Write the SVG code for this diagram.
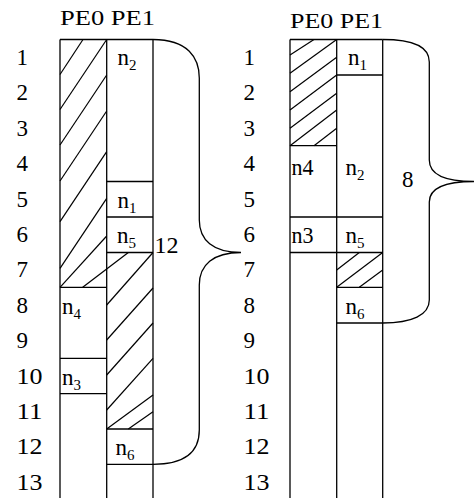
<svg xmlns="http://www.w3.org/2000/svg" width="474" height="498" viewBox="0 0 474 498">
<style>
.ln{stroke:#000;stroke-width:1.3;fill:none}
.h{stroke:#000;stroke-width:1.2;fill:none}
text{font-family:"Liberation Serif","Times New Roman",serif;fill:#000}
.num{font-size:23px}
.hd{font-size:22px}
.lb{font-size:23px}
.sb{font-size:15px}
</style>
<rect width="474" height="498" fill="#fff"/>
<g id="left-chart">
<text class="hd" x="60" y="25" textLength="95" lengthAdjust="spacingAndGlyphs">PE0 PE1</text>
<g id="left-rows" class="num">
<text x="16.5" y="65">1</text>
<text x="16.5" y="100.4">2</text>
<text x="16.5" y="135.8">3</text>
<text x="16.5" y="171.2">4</text>
<text x="16.5" y="206.6">5</text>
<text x="16.5" y="242">6</text>
<text x="16.5" y="277.4">7</text>
<text x="16.5" y="312.8">8</text>
<text x="16.5" y="348.2">9</text>
<text x="16.5" y="383.6" textLength="26" lengthAdjust="spacingAndGlyphs">10</text>
<text x="16.5" y="419" textLength="26" lengthAdjust="spacingAndGlyphs">11</text>
<text x="16.5" y="454.4" textLength="26" lengthAdjust="spacingAndGlyphs">12</text>
<text x="16.5" y="489.8" textLength="26" lengthAdjust="spacingAndGlyphs">13</text>
</g>
<g id="left-columns" class="ln">
<line x1="60" y1="39.5" x2="60" y2="498"/>
<line x1="106.7" y1="39.5" x2="106.7" y2="498"/>
<line x1="153" y1="39.5" x2="153" y2="498"/>
<line x1="60" y1="39.5" x2="153" y2="39.5"/>
</g>
<g id="L-PE0-idle" class="h">
<line x1="60" y1="74.5" x2="83" y2="39.5"/>
<line x1="60" y1="109.5" x2="106.7" y2="39.5"/>
<line x1="60" y1="145" x2="106.7" y2="75"/>
<line x1="60" y1="181" x2="106.7" y2="111"/>
<line x1="60" y1="221.7" x2="106.7" y2="151.7"/>
<line x1="60" y1="268.3" x2="106.7" y2="198.3"/>
<line x1="60" y1="287.3" x2="106.7" y2="236"/>
<line x1="82.7" y1="287.3" x2="128.3" y2="252.5"/>
</g>
<g id="L-n4"><line class="ln" x1="60" y1="287.3" x2="106.7" y2="287.3"/><text class="lb" x="62" y="314">n<tspan class="sb" dy="5">4</tspan></text></g>
<g id="L-n3"><line class="ln" x1="60" y1="358.3" x2="106.7" y2="358.3"/><line class="ln" x1="60" y1="393.7" x2="106.7" y2="393.7"/><text class="lb" x="62" y="385">n<tspan class="sb" dy="5">3</tspan></text></g>
<g id="L-n2"><text class="lb" x="117.5" y="65">n<tspan class="sb" dy="5">2</tspan></text><line class="ln" x1="106.7" y1="181.5" x2="153" y2="181.5"/></g>
<g id="L-n1"><text class="lb" x="117.5" y="208">n<tspan class="sb" dy="5">1</tspan></text><line class="ln" x1="106.7" y1="217" x2="153" y2="217"/></g>
<g id="L-n5"><text class="lb" x="117" y="243">n<tspan class="sb" dy="5">5</tspan></text><line class="ln" x1="106.7" y1="252.5" x2="153" y2="252.5"/></g>
<g id="L-PE1-idle" class="h">
<line x1="106.7" y1="305" x2="153" y2="252.5"/>
<line x1="106.7" y1="340" x2="153" y2="288"/>
<line x1="106.7" y1="375" x2="153" y2="323"/>
<line x1="106.7" y1="410" x2="153" y2="358.3"/>
<line x1="106.7" y1="429" x2="153" y2="395"/>
<line x1="128.3" y1="429" x2="153" y2="411.7"/>
</g>
<g id="L-n6"><line class="ln" x1="106.7" y1="429" x2="153" y2="429"/><line class="ln" x1="106.7" y1="464.3" x2="153" y2="464.3"/><text class="lb" x="115.5" y="455">n<tspan class="sb" dy="5">6</tspan></text></g>
</g>
<g id="right-chart">
<text class="hd" x="290" y="28" textLength="93" lengthAdjust="spacingAndGlyphs">PE0 PE1</text>
<g id="right-rows" class="num">
<text x="243.5" y="65">1</text>
<text x="243.5" y="100.4">2</text>
<text x="243.5" y="135.8">3</text>
<text x="243.5" y="171.2">4</text>
<text x="243.5" y="206.6">5</text>
<text x="243.5" y="242">6</text>
<text x="243.5" y="277.4">7</text>
<text x="243.5" y="312.8">8</text>
<text x="243.5" y="348.2">9</text>
<text x="243.5" y="383.6" textLength="26" lengthAdjust="spacingAndGlyphs">10</text>
<text x="243.5" y="419" textLength="26" lengthAdjust="spacingAndGlyphs">11</text>
<text x="243.5" y="454.4" textLength="26" lengthAdjust="spacingAndGlyphs">12</text>
<text x="243.5" y="489.8" textLength="26" lengthAdjust="spacingAndGlyphs">13</text>
</g>
<g id="right-columns" class="ln">
<line x1="290" y1="39.5" x2="290" y2="498"/>
<line x1="336.7" y1="39.5" x2="336.7" y2="498"/>
<line x1="382.7" y1="39.5" x2="382.7" y2="498"/>
<line x1="290" y1="39.5" x2="382.7" y2="39.5"/>
</g>
<g id="R-PE0-idle" class="h">
<line x1="290" y1="55" x2="314" y2="39.5"/>
<line x1="290" y1="73.3" x2="336.7" y2="39.5"/>
<line x1="290" y1="91.7" x2="336.7" y2="57.3"/>
<line x1="290" y1="110" x2="336.7" y2="75"/>
<line x1="290" y1="128.3" x2="336.7" y2="93.3"/>
<line x1="290" y1="145.7" x2="336.7" y2="110"/>
<line x1="314" y1="145.7" x2="336.7" y2="128.3"/>
</g>
<g id="R-n4"><line class="ln" x1="290" y1="145.7" x2="336.7" y2="145.7"/><text class="lb" x="291.5" y="175" textLength="22" lengthAdjust="spacingAndGlyphs">n4</text></g>
<g id="R-n3"><line class="ln" x1="290" y1="217" x2="336.7" y2="217"/><line class="ln" x1="290" y1="252.5" x2="336.7" y2="252.5"/><text class="lb" x="291.5" y="243" textLength="22" lengthAdjust="spacingAndGlyphs">n3</text></g>
<g id="R-n1"><text class="lb" x="348" y="65">n<tspan class="sb" dy="5">1</tspan></text><line class="ln" x1="336.7" y1="75" x2="382.7" y2="75"/></g>
<g id="R-n2"><text class="lb" x="345.5" y="175">n<tspan class="sb" dy="5">2</tspan></text><line class="ln" x1="336.7" y1="217" x2="382.7" y2="217"/></g>
<g id="R-n5"><text class="lb" x="345.5" y="243">n<tspan class="sb" dy="5">5</tspan></text><line class="ln" x1="336.7" y1="252.5" x2="382.7" y2="252.5"/></g>
<g id="R-PE1-idle" class="h">
<line x1="336.7" y1="270" x2="359.3" y2="252.5"/>
<line x1="336.7" y1="287.3" x2="382.7" y2="252.5"/>
<line x1="359.3" y1="287.3" x2="382.7" y2="270"/>
</g>
<g id="R-n6"><line class="ln" x1="336.7" y1="287.3" x2="382.7" y2="287.3"/><line class="ln" x1="336.7" y1="323" x2="382.7" y2="323"/><text class="lb" x="345.5" y="313.5">n<tspan class="sb" dy="5">6</tspan></text></g>
</g>
<g id="connectors" class="ln">
<path d="M153,39.5 C188,39.5 199.3,58 199.3,78 L199.3,220 C199.3,240 213,252.5 241,252.5 C213,252.5 199.3,265 199.3,285 L199.3,430 C199.3,452 185,464.3 153,464.3"/>
<path d="M382.7,39.5 C415,39.5 429.3,48 429.3,62 L429.3,160 C429.3,175 445,181.5 474,181.5 C445,181.5 429.3,188 429.3,202 L429.3,300 C429.3,315 412,323 382.7,323"/>
</g>
<text class="lb" x="154.5" y="253" textLength="24" lengthAdjust="spacingAndGlyphs">12</text>
<text class="lb" x="402" y="186.5">8</text>
</svg>
